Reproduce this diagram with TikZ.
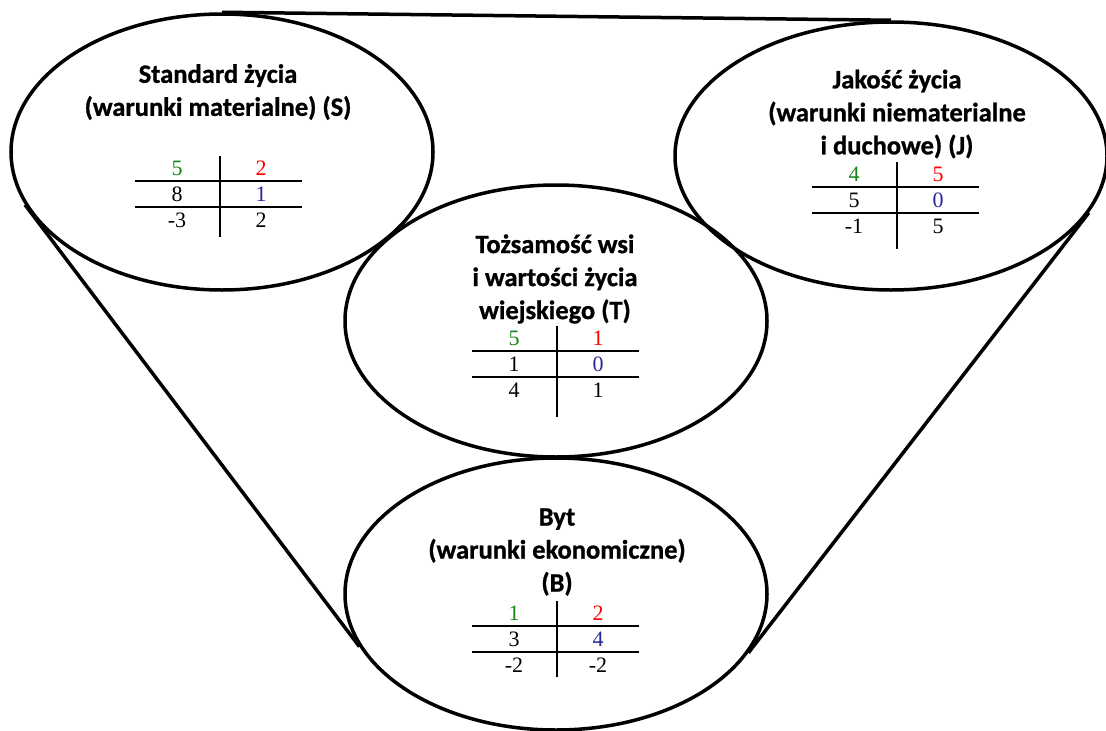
\documentclass[tikz,border=0pt]{standalone}
\usepackage{fontspec}
\setmainfont{Liberation Serif}
\newfontfamily\tytulfont{Carlito}[BoldFeatures={FakeBold=1}]
\usetikzlibrary{shapes.geometric}

\definecolor{zielony}{RGB}{20,135,20}
\definecolor{czerwony}{RGB}{255,0,0}
\definecolor{granat}{RGB}{40,40,150}

\tikzset{
  krag/.style={draw, ellipse, line width=3.5pt, minimum width=422pt, minimum height=276pt, inner sep=0pt},
  tytul/.style={align=center, font=\tytulfont\bfseries\fontsize{26.5}{33}\selectfont},
  liczba/.style={font=\fontsize{22}{22}\selectfont, inner sep=0pt},
  kreska/.style={line width=2pt},
  linia/.style={line width=3.5pt}
}

% tabelka: nazwa, x kreski pionowej, y pierwszej poziomej, dol pionowej, liczby
\newcommand{\tabelka}[5]{%
  \draw[kreska] (#2,#3-25) -- (#2,#3+#4);
  \draw[kreska] (#2-85,#3) -- (#2+82,#3);
  \draw[kreska] (#2-85,#3+26) -- (#2+82,#3+26);
  \foreach \a/\b/\c/\d/\e/\f in {#5}{
    \node[liczba, text=zielony] (#1-a) at (#2-43,#3-13) {\a};
    \node[liczba, text=czerwony] (#1-b) at (#2+41,#3-13) {\b};
    \node[liczba] (#1-c) at (#2-43,#3+13) {\c};
    \node[liczba, text=granat] (#1-d) at (#2+41,#3+13) {\d};
    \node[liczba] (#1-e) at (#2-43,#3+39) {\e};
    \node[liczba] (#1-f) at (#2+41,#3+39) {\f};
  }%
}

\begin{document}
\begin{tikzpicture}[x=1pt,y=-1pt]

\useasboundingbox (0,0) rectangle (1106,731);

% cztery elipsy
\node[krag] (S) at (222,152) {};
\node[krag, minimum width=432pt, minimum height=268pt] (J) at (891,156) {};
\node[krag, minimum height=272pt] (T) at (556,321) {};
\node[krag, minimum height=272pt] (B) at (556,594) {};

% linie laczace
\draw[linia] (S.north) -- (J.north);
\draw[linia] (S.195) -- (B.195);
\draw[linia] (J.-16) -- (B.-17);

% podpisy
\node[tytul] (tS) at (218,92) {Standard życia\\(warunki materialne) (S)};
\node[tytul] (tJ) at (897,114) {Jakość życia\\(warunki niematerialne\\i duchowe) (J)};
\node[tytul] (tT) at (555,279) {Tożsamość wsi\\i wartości życia\\wiejskiego (T)};
\node[tytul] (tB) at (557,552) {Byt\\(warunki ekonomiczne)\\(B)};

% tabelki z liczbami
\tabelka{S}{220}{181}{56}{5/2/8/1/-3/2}
\tabelka{J}{897}{187}{62}{4/5/5/0/-1/5}
\tabelka{T}{557}{351}{66}{5/1/1/0/4/1}
\tabelka{B}{557}{626}{51}{1/2/3/4/-2/-2}

\end{tikzpicture}
\end{document}
